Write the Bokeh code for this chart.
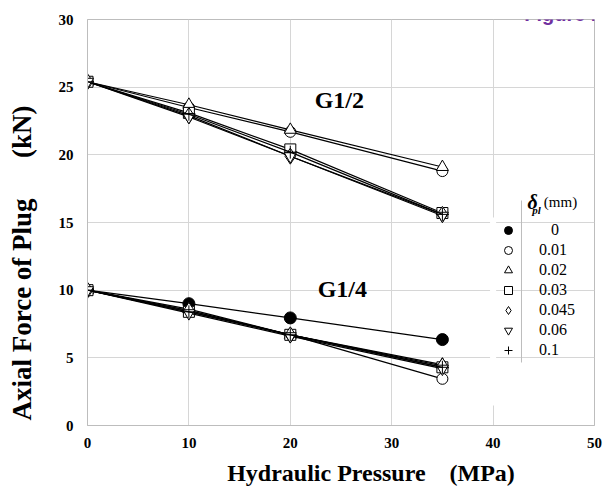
from bokeh.plotting import figure
from bokeh.models import Range1d, Legend, LegendItem, Label, BoxAnnotation, FixedTicker
from bokeh.embed import file_html
from bokeh.resources import INLINE

# ---- data ----
pressure = [0, 10, 20, 35]            # MPa
x_ticks = [0, 10, 20, 30, 40, 50]
y_ticks = [0, 5, 10, 15, 20, 25, 30]
delta_labels = ["0", "0.01", "0.02", "0.03", "0.045", "0.06", "0.1"]

# G1/2 plug (no 0 mm series visible)
g12_d001 = [25.4, 23.5, 21.7, 18.8]
g12_d002 = [25.4, 23.7, 21.85, 19.1]
g12_d003 = [25.4, 23.1, 20.4, 15.7]
g12_d0045 = [25.4, 22.9, 19.9, 15.6]
g12_d006 = [25.4, 22.8, 19.9, 15.5]
g12_d01 = [25.4, 23.0, 20.2, 15.6]

# G1/4 plug
g14_d0 = [10.0, 9.0, 7.95, 6.35]
g14_d001 = [10.0, 8.5, 6.7, 3.45]
g14_d002 = [10.0, 8.6, 6.7, 4.5]
g14_d003 = [10.0, 8.4, 6.7, 4.3]
g14_d0045 = [10.0, 8.5, 6.7, 4.4]
g14_d006 = [10.0, 8.3, 6.6, 4.2]
g14_d01 = [10.0, 8.4, 6.7, 4.3]

g12_series = [None, g12_d001, g12_d002, g12_d003, g12_d0045, g12_d006, g12_d01]
g14_series = [g14_d0, g14_d001, g14_d002, g14_d003, g14_d0045, g14_d006, g14_d01]

markers = ["circle", "circle", "triangle", "square", "diamond", "inverted_triangle", "cross"]
sizes = [12, 11, 12, 11, 16, 12, 13]
fills = ["black", "white", "white", "white", "white", "white", "white"]

NB = "\u00a0"
SERIF = "Liberation Serif"
GRID = "#d6d6d6"
FRAME = "#bdbdbd"

p = figure(width=613, height=491, x_range=Range1d(0, 50), y_range=Range1d(0, 30),
           output_backend="svg", toolbar_location=None,
           min_border_left=87, min_border_right=19, min_border_top=19, min_border_bottom=66)
p.background_fill_color = "white"
p.border_fill_color = "white"
p.outline_line_color = FRAME

p.xaxis.ticker = FixedTicker(ticks=x_ticks)
p.yaxis.ticker = FixedTicker(ticks=y_ticks)
for ax in (p.xaxis[0], p.yaxis[0]):
    ax.axis_line_color = FRAME
    ax.major_tick_line_color = None
    ax.minor_tick_line_color = None
    ax.major_tick_out = 0
    ax.major_tick_in = 0
    ax.major_label_text_font = SERIF
    ax.major_label_text_font_style = "bold"
    ax.major_label_text_font_size = "15px"
    ax.major_label_text_color = "black"
    ax.axis_label_text_font = SERIF
    ax.axis_label_text_font_style = "bold"
    ax.axis_label_text_color = "black"
p.xaxis.major_label_standoff = 12
p.yaxis.major_label_standoff = 14
p.xaxis.axis_label = NB * 10 + "Hydraulic Pressure" + NB * 4 + "(MPa)"
p.xaxis.axis_label_text_font_size = "24px"
p.xaxis.axis_label_standoff = 9
p.yaxis.axis_label = "Axial Force of Plug" + NB * 6 + "(kN)" + NB * 12
p.yaxis.axis_label_text_font_size = "27px"
p.yaxis.axis_label_standoff = 19

p.grid.grid_line_color = GRID
p.grid.grid_line_width = 1

items = []
for i, lab in enumerate(delta_labels):
    rends = []
    for series in (g12_series[i], g14_series[i]):
        if series is None:
            continue
        p.line(pressure, series, line_color="black", line_width=1.2)
    for series in (g12_series[i], g14_series[i]):
        if series is None:
            continue
        r = p.scatter(pressure, series, marker=markers[i], size=sizes[i],
                      fill_color=fills[i], line_color="black", line_width=1)
        rends.append(r)
    items.append(LegendItem(label=(NB * 3 + lab) if lab == "0" else lab, renderers=[rends[-1]]))

# mask the x=40 grid line behind the legend table, and draw the table's column separator
p.add_layout(BoxAnnotation(left=39.7, right=40.3, bottom=1.48, top=15.37,
                           fill_color="white", fill_alpha=1, line_alpha=0))
p.add_layout(BoxAnnotation(left=42.75, right=42.85, bottom=4.66, top=16.63,
                           fill_color=FRAME, fill_alpha=1, line_alpha=0))

legend = Legend(items=items, location=(406, 60), padding=5, spacing=0,
                glyph_width=20, glyph_height=20, label_height=20, label_standoff=21,
                label_text_font=SERIF, label_text_font_size="16px",
                label_text_color="black", label_text_baseline="middle",
                background_fill_alpha=0, border_line_alpha=0, margin=0)
p.add_layout(legend)

# legend header: delta_pl (mm)
p.add_layout(Label(x=43.4, y=16.5, text="δ", text_font=SERIF, text_font_style="bold italic",
                   text_font_size="20px", text_color="black", text_baseline="alphabetic"))
p.add_layout(Label(x=43.85, y=15.95, text="pl", text_font=SERIF, text_font_style="bold italic",
                   text_font_size="11px", text_color="black", text_baseline="alphabetic"))
p.add_layout(Label(x=45.0, y=16.5, text="(mm)", text_font=SERIF, text_color="black",
                   text_font_size="15px", text_baseline="alphabetic"))

# group labels
p.add_layout(Label(x=22.4, y=24.05, text="G1/2", text_font=SERIF, text_font_style="bold",
                   text_font_size="24px", text_color="black", text_baseline="alphabetic"))
p.add_layout(Label(x=22.7, y=10.05, text="G1/4", text_font=SERIF, text_font_style="bold",
                   text_font_size="24px", text_color="black", text_baseline="alphabetic"))

# figure tag at top-right
p.add_layout(Label(x=50.2, y=30.4, text="Figure4", text_font="Liberation Sans",
                   text_font_style="bold", text_font_size="20px", text_color="#7030a0",
                   text_align="right", text_baseline="alphabetic"))

open("out.html", "w").write(file_html(p, INLINE))
